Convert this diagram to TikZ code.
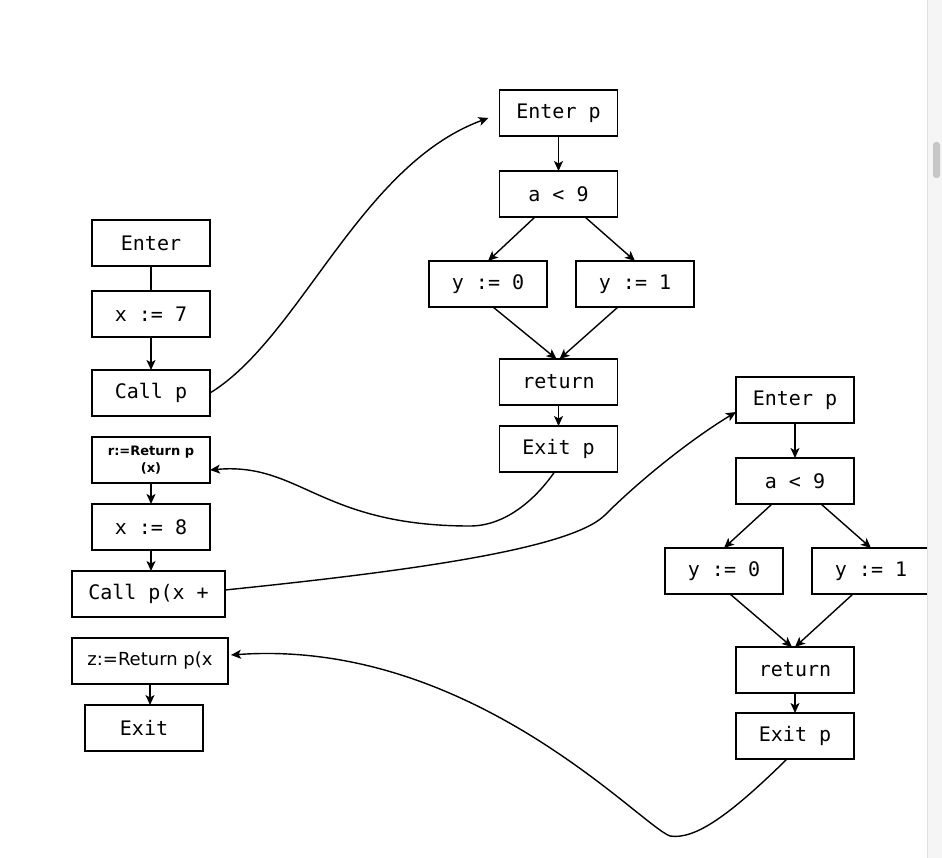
\documentclass[tikz,border=0pt]{standalone}
\usepackage{fontspec}
\setmonofont{DejaVu Sans Mono}
\newfontfamily\retfont{DejaVu Sans}
\usepackage{tikz}
\usetikzlibrary{arrows.meta, positioning}

\begin{document}
\begin{tikzpicture}[
  x=1pt, y=-1pt,
  node distance=21pt,
  box/.style={draw, line width=1.5pt, fill=white, minimum width=118pt, minimum height=46pt,
              inner sep=0pt, outer sep=0pt, align=center, font=\ttfamily\fontsize{20}{24}\selectfont},
  retbox/.style={box, font=\retfont\fontsize{18}{22}\selectfont},
  arr/.style={line width=1.4pt, -{Stealth[length=10pt, width=9pt, inset=2.5pt]}},
  link/.style={line width=1.4pt}
]
  \useasboundingbox (0,0) rectangle (942,858);
  \fill[white] (0,0) rectangle (942,858);

  % Main
  \node[box] (enter) at (151,243) {Enter};
  \node[box, below=25pt of enter] (x7) {x := 7};
  \node[box, below=33pt of x7] (callp) {Call p};
  \node[box, below=of callp, font=\retfont\bfseries\fontsize{13}{17}\selectfont] (rret) {r:=Return p\\(x)};
  \node[box, below=of rret] (x8) {x := 8};
  \node[box, below=of x8, xshift=-2.5pt, minimum width=153pt] (callx) {Call p(x +};
  \node[retbox, below=of callx, xshift=1.5pt, minimum width=156pt] (zret) {z:=Return p(x};
  \node[box, below=of zret, xshift=-6pt] (exit) {Exit};

  % Procedure p (first call)
  \node[box] (enterM) at (558.5,113) {Enter p};
  \node[box, below=35pt of enterM] (condM) {a < 9};
  \node[box, below=44pt of condM, xshift=-70.5pt] (y0M) {y := 0};
  \node[box, below=44pt of condM, xshift=76.5pt] (y1M) {y := 1};
  \node[box, below=52pt of y0M, xshift=70.5pt] (retM) {return};
  \node[box, below=of retM] (exitM) {Exit p};

  % Procedure p (second call)
  \node[box] (enterR) at (795,400) {Enter p};
  \node[box, below=35pt of enterR] (condR) {a < 9};
  \node[box, below=44pt of condR, xshift=-71pt] (y0R) {y := 0};
  \node[box, below=44pt of condR, xshift=76pt] (y1R) {y := 1};
  \node[box, below=53pt of y0R, xshift=71pt] (retR) {return};
  \node[box, below=20pt of retR] (exitR) {Exit p};

  % Arrows
  \draw[link] (enter) -- (x7);
  \draw[arr] (x7) -- (callp);
  \draw[arr] (rret) -- (x8);
  \draw[arr] (x8.south) -- (x8.south |- callx.north);
  \draw[arr] (zret.south) -- (zret.south |- exit.north);

  \draw[arr] (enterM) -- (condM);
  \draw[arr] ([xshift=-23.5pt]condM.south) -- (y0M.north);
  \draw[arr] ([xshift=26.5pt]condM.south) -- (y1M.north);
  \draw[arr] ([xshift=5pt]y0M.south) -- ([xshift=-2pt]retM.north);
  \draw[arr] ([xshift=-17pt]y1M.south) -- ([xshift=1pt]retM.north);
  \draw[arr] (retM) -- (exitM);

  \draw[arr] (enterR) -- (condR);
  \draw[arr] ([xshift=-23pt]condR.south) -- (y0R.north);
  \draw[arr] ([xshift=26pt]condR.south) -- (y1R.north);
  \draw[arr] ([xshift=6pt]y0R.south) -- ([xshift=-3pt]retR.north);
  \draw[arr] ([xshift=-18pt]y1R.south) -- (retR.north);
  \draw[arr] (retR) -- (exitR);

  % Calls and returns
  \draw[arr] (callp.east) .. controls (300,338) and (360,165) .. ([xshift=-11pt, yshift=-5pt]enterM.west);
  \draw[arr] ([xshift=-4pt]exitM.south) .. controls (535,500) and (505,526) .. (470,526)
    .. controls (320,526) and (300,462) .. ([yshift=-10pt]rret.east);
  \draw[arr] ([yshift=4pt]callx.east) .. controls (400,572) and (570,550) .. (605,515)
    .. controls (640,480) and (690,440) .. ([yshift=-12pt]enterR.west);
  \draw[arr] ([xshift=-8pt]exitR.south) .. controls (730,815) and (695,840) .. (670,836)
    .. controls (640,825) and (470,638) .. ([xshift=3pt, yshift=6pt]zret.east);

  % Scrollbar
  \fill[gray!8] (927,0) rectangle (942,858);
  \draw[gray!25] (927.5,0) -- (927.5,858);
  \fill[gray!45, rounded corners=3pt] (933,142) rectangle (940,178);
\end{tikzpicture}
\end{document}
